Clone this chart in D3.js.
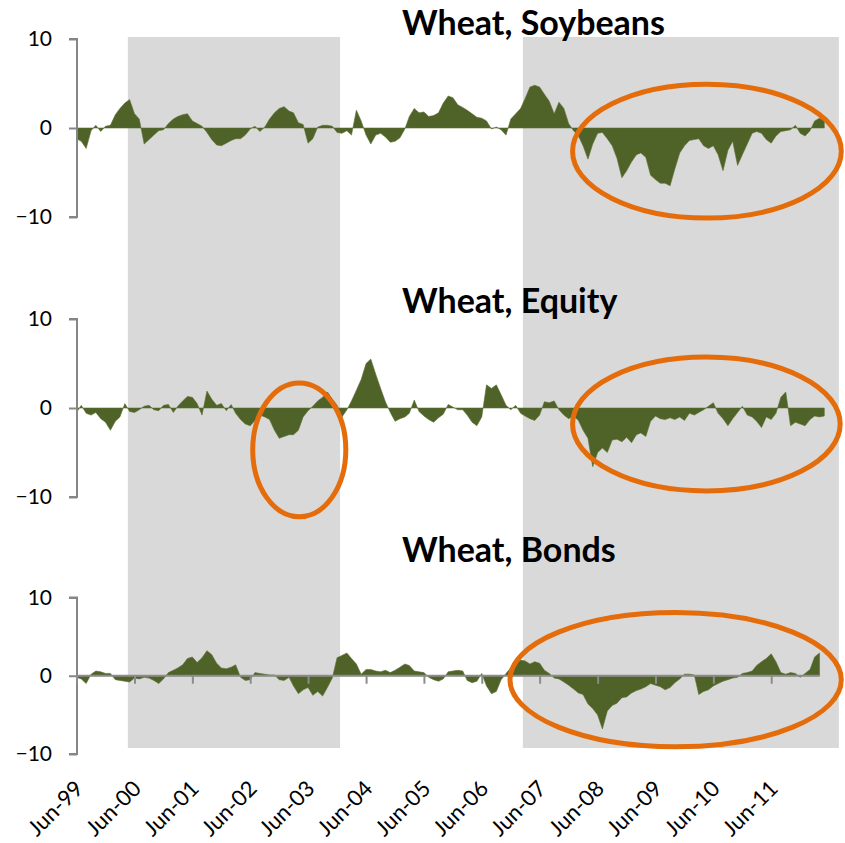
<!DOCTYPE html>
<html>
<head>
<meta charset="utf-8">
<script src="https://cdn.jsdelivr.net/npm/d3@7"></script>
<style>
  body { margin: 0; background: #fff; }
  svg { display: block; }
  text { font-family: Lato, "Open Sans", sans-serif; fill: #000; }
</style>
</head>
<body>
<div class="chart"></div>
<script>
// monthly readings, first value is Jun-99
var startMonth = new Date(1999, 5, 1);

var soybeans = [
  -1.2, -1.5, -2.3, -0.3, 0.3, -0.4, 0.2, 0.3, 1.5, 2.2, 2.8, 3.2,
  1.6, 1.0, -1.8, -1.3, -0.8, -0.3, -0.2, 0.5, 1.0, 1.3, 1.5, 1.6,
  0.8, 0.5, 0.2, -0.5, -1.3, -1.9, -2.0, -1.7, -1.4, -1.2, -1.2, -0.8,
  -0.1, 0.2, -0.4, 0.1, 1.0, 1.7, 2.2, 2.4, 1.9, 1.7, 0.6, 0.4,
  -1.7, -1.2, 0.1, 0.3, 0.3, 0.2, -0.5, -0.6, -0.3, -0.8, 2.0, 0.8,
  -0.8, -1.8, -0.8, -0.6, -1.0, -1.6, -1.5, -1.1, -0.1, 1.3, 2.2, 1.7,
  1.8, 1.3, 1.4, 1.7, 2.8, 3.6, 3.4, 2.6, 2.3, 2.0, 1.6, 1.2,
  1.1, 0.8, -0.1, 0.1, -0.2, -0.8, 1.0, 1.6, 2.2, 3.3, 4.6, 4.8,
  4.6, 3.8, 3.0, 1.6, 2.9, 2.2, 0.5, -0.3, -0.9, -2.0, -3.5, -1.8,
  -0.6, -0.5, -1.2, -2.0, -3.4, -5.6, -4.8, -3.8, -3.0, -2.8, -3.3, -5.3,
  -5.8, -6.2, -6.2, -6.5, -4.6, -2.8, -2.0, -1.4, -1.3, -1.2, -2.0, -2.3,
  -2.0, -3.0, -4.8, -2.5, -1.5, -4.2, -3.0, -1.8, -0.6, -0.4, -0.6, -1.3,
  -1.7, -0.9, -0.4, -0.3, -0.2, 0.3, -0.6, -0.9, -0.3, 0.8, 1.1, 0.8
];

var equity = [
  -0.5, 0.3, -0.6, -0.8, -0.5, -1.2, -1.6, -2.5, -1.5, -1.0, 0.5, -0.4,
  -0.5, -0.2, 0.2, 0.3, -0.2, -0.3, 0.3, 0.4, -0.5, 0.2, 0.8, 1.3,
  1.2, 0.5, -0.8, 1.9, 1.0, 0.3, 0.5, -0.3, 0.4, -0.6, -1.3, -1.8,
  -2.0, -1.4, -0.8, -1.0, -1.3, -2.5, -3.4, -3.2, -3.0, -3.0, -2.5, -1.0,
  -0.3, 0.2, 0.8, 1.2, 1.8, 1.0, 0.3, -1.0, -0.2, 0.8, 2.0, 3.2,
  5.0, 5.5, 3.8, 2.2, 0.7, -0.5, -1.5, -1.2, -1.0, -0.6, 0.9, -0.4,
  -0.9, -1.3, -1.6, -1.1, -0.7, 0.4, 0.1, -0.2, -0.2, -0.8, -1.6, -2.0,
  -1.0, 2.6, 2.2, 2.6, 1.5, 0.3, -0.2, 0.3, -0.6, -0.9, -1.2, -1.4,
  -0.8, 0.7, 0.6, 0.8, -0.2, -0.8, -1.2, -0.9, -1.4, -2.5, -3.4, -6.6,
  -5.0, -4.5, -5.0, -3.6, -3.5, -3.8, -3.3, -3.9, -3.0, -2.8, -3.2, -1.5,
  -0.9, -1.2, -1.3, -1.1, -1.3, -1.0, -1.4, -0.6, -0.8, -0.5, -0.2, 0.2,
  0.6, -0.6, -1.2, -2.0, -1.2, -0.5, 0.2, -0.8, -1.0, -1.5, -2.2, -1.0,
  -1.3, -0.6, 1.2, 1.8, -2.0, -1.6, -1.8, -2.0, -1.3, -0.9, -1.0, -0.9
];

var bonds = [
  -0.2, -0.4, -1.0, 0.2, 0.6, 0.5, 0.3, 0.3, -0.5, -0.6, -0.7, -0.8,
  -0.3, -0.4, -0.2, -0.3, -0.6, -1.0, -0.4, 0.4, 0.7, 1.0, 1.4, 2.2,
  2.4, 1.7, 2.3, 3.2, 2.7, 1.6, 1.0, 0.9, 1.1, 1.4, -0.2, -0.6,
  -0.5, 0.4, 0.3, 0.2, 0.1, 0.1, -0.5, -0.6, -0.2, -1.3, -2.3, -1.8,
  -1.5, -2.5, -2.0, -2.6, -1.5, -0.3, 2.3, 2.6, 2.9, 2.2, 1.5, 0.2,
  0.8, 0.8, 0.6, 0.5, 0.7, 0.4, 0.7, 1.1, 1.5, 1.3, 0.6, 0.5,
  0.4, -0.2, -0.5, -0.7, -0.4, 0.5, 0.6, 0.7, 0.6, -0.6, -0.9, -0.7,
  0.3, -1.3, -2.3, -2.0, -0.5, 0.3, 1.0, 1.6, 2.0, 1.9, 1.5, 1.8,
  1.6, 0.7, 0.3, -0.3, -0.4, -0.8, -1.2, -1.7, -2.2, -2.4, -3.6, -4.2,
  -5.0, -6.8, -4.5, -3.8, -3.5, -2.8, -2.7, -2.2, -1.9, -1.7, -1.4, -1.0,
  -1.2, -1.4, -1.8, -1.5, -0.9, -0.4, 0.2, 0.2, 0.1, -2.4, -2.0, -1.8,
  -1.3, -1.0, -0.7, -0.5, -0.3, -0.2, 0.3, 0.4, 0.6, 1.3, 1.8, 2.2,
  2.8, 1.8, 0.4, 0.2, 0.4, 0.3, -0.2, 0.3, 0.8, 2.4, 2.9
];

var titles = ["Wheat, Soybeans", "Wheat, Equity", "Wheat, Bonds"];
var yTicks = [10, 0, -10];
var tickYears = d3.range(1999, 2012);   // Jun-99 ... Jun-11

// grey shaded periods
var shadeFrom = [new Date(2000, 3, 20), new Date(2007, 1, 15)];
var shadeTo = [new Date(2003, 11, 20), new Date(2012, 7, 1)];

// orange rings: panel, date span and value span
var rings = [
  { panel: 0, from: new Date(2007, 11, 10), to: new Date(2012, 8, 1), top: 5.2, bottom: -10.4 },
  { panel: 1, from: new Date(2002, 5, 1), to: new Date(2004, 1, 10), top: 3.1, bottom: -12.5 },
  { panel: 1, from: new Date(2007, 11, 10), to: new Date(2012, 7, 25), top: 6.0, bottom: -9.6 },
  { panel: 2, from: new Date(2006, 10, 10), to: new Date(2012, 8, 1), top: 8.4, bottom: -9.4 }
];

var series = [soybeans, equity, bonds];

var svgWidth = 845, svgHeight = 843;

// panel layout (pixel rows for +10 / -10 and title baseline)
var panels = [
  { top: 39, bottom: 217, titleY: 35 },
  { top: 319, bottom: 497, titleY: 313 },
  { top: 597.5, bottom: 754, titleY: 562 }
];

var svg = d3.select(".chart")
  .append("svg")
  .attr("width", svgWidth)
  .attr("height", svgHeight);

var xScale = d3.scaleTime()
  .domain([startMonth, new Date(2012, 5, 1)])
  .range([76.5, 76.5 + 13 * 57.9]);

// shaded periods behind everything
svg.append("g")
  .selectAll("rect")
  .data(shadeFrom)
  .enter()
  .append("rect")
  .attr("x", (d, i) => xScale(d))
  .attr("width", (d, i) => xScale(shadeTo[i]) - xScale(d))
  .attr("y", 37)
  .attr("height", 748 - 37)
  .attr("fill", "#d9d9d9");

panels.forEach(function(p, k) {
  var yScale = d3.scaleLinear().domain([-10, 10]).range([p.bottom, p.top]);
  var g = svg.append("g");

  var points = series[k].map((v, i) => ({ date: d3.timeMonth.offset(startMonth, i), value: v }));

  var area = d3.area()
    .x(d => xScale(d.date))
    .y0(yScale(0))
    .y1(d => yScale(d.value));

  g.append("path")
    .datum(points)
    .attr("d", area)
    .attr("fill", "#4f6228")
    .attr("stroke", "#5d7033")
    .attr("stroke-width", 0.6);

  // y axis
  var yAxis = d3.axisLeft(yScale).tickValues(yTicks).tickSize(8).tickPadding(17);
  var ya = g.append("g")
    .attr("transform", "translate(77,0)")
    .call(yAxis);
  ya.select(".domain").attr("stroke", "#868686").attr("stroke-width", 2)
    .attr("d", `M-8,${yScale(10)}H0V${yScale(-10)}H-8`);
  ya.selectAll(".tick line").attr("stroke", "#868686").attr("stroke-width", 2);
  ya.selectAll(".tick text")
    .style("font-family", "Lato, sans-serif")
    .style("font-size", "21px")
    .attr("fill", "#000");

  // zero line with yearly ticks, only the bottom panel shows it
  if (k === 2) {
    var lastDate = points[points.length - 1].date;
    var xAxis = d3.axisBottom(xScale)
      .tickValues(tickYears.map(y => new Date(y, 5, 1)))
      .tickSize(8)
      .tickFormat("");
    var xa = g.append("g")
      .attr("transform", `translate(0,${yScale(0)})`)
      .call(xAxis);
    xa.select(".domain").attr("stroke", "#8c8c8c").attr("stroke-width", 2)
      .attr("d", `M${xScale(startMonth)},0H${xScale(lastDate)}`);
    xa.selectAll(".tick line").attr("stroke", "#8c8c8c").attr("stroke-width", 2);

    // rotated date labels
    svg.append("g")
      .selectAll("text")
      .data(tickYears)
      .enter()
      .append("text")
      .attr("transform", d => `translate(${xScale(new Date(d, 5, 1)) + 8},790) rotate(-45)`)
      .attr("text-anchor", "end")
      .style("font-size", "22px")
      .text(d => d3.timeFormat("%b-%y")(new Date(d, 5, 1)));
  }

  // title
  svg.append("text")
    .attr("x", 402)
    .attr("y", p.titleY)
    .style("font-size", "34px")
    .style("font-weight", "bold")
    .text(titles[k]);

  // orange rings
  rings.filter(r => r.panel === k).forEach(function(r) {
    var x0 = xScale(r.from), x1 = xScale(r.to);
    var y0 = yScale(r.top), y1 = yScale(r.bottom);
    svg.append("ellipse")
      .attr("cx", (x0 + x1) / 2)
      .attr("cy", (y0 + y1) / 2)
      .attr("rx", (x1 - x0) / 2 - 2.5)
      .attr("ry", (y1 - y0) / 2 - 2.5)
      .attr("fill", "none")
      .attr("stroke", "#e46c0a")
      .attr("stroke-width", 5);
  });
});
</script>
</body>
</html>
